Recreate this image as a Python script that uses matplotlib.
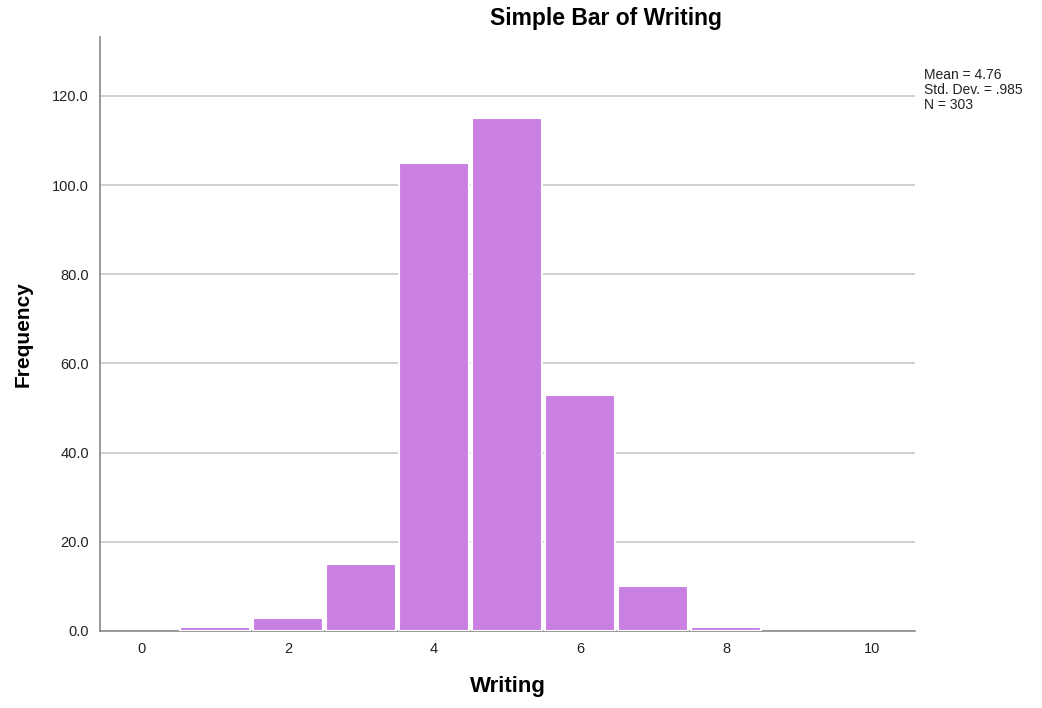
import matplotlib
matplotlib.use("Agg")
import matplotlib.pyplot as plt

plt.rcParams['font.family'] = ['Liberation Sans', 'DejaVu Sans']

writing = [1, 2, 3, 4, 5, 6, 7, 8]
frequency = [1, 3, 15, 105, 115, 53, 10, 1]
yticks = [0, 20, 40, 60, 80, 100, 120]
xticks = [0, 2, 4, 6, 8, 10]
stats = "Mean = 4.76\nStd. Dev. = .985\nN = 303"

fig = plt.figure(figsize=(10.42, 7.08), dpi=100)
ax = fig.add_axes([100/1042, 1 - 631/708, (915-100)/1042, (631-37)/708])

ax.bar(writing, frequency, width=0.97, color='#CA80E3', edgecolor='white', linewidth=1.5, zorder=3)
ax.set_xlim(-0.575, 10.59)
ax.set_ylim(0, 133.2)
ax.set_yticks(yticks)
ax.set_yticklabels([f"{v:.1f}" for v in yticks], fontsize=10.5, color='#222222')
ax.set_xticks(xticks)
ax.set_xticklabels([str(v) for v in xticks], fontsize=10.5, color='#222222')
ax.tick_params(length=0, pad=8)
ax.yaxis.grid(True, color='#c8c8c8', linewidth=1.2, zorder=0)
ax.set_axisbelow(True)
for s in ['top', 'right']:
    ax.spines[s].set_visible(False)
for s in ['left', 'bottom']:
    ax.spines[s].set_color('#888888')
    ax.spines[s].set_linewidth(1.2)

fig.text(606/1042, 1 - 19/708, "Simple Bar of Writing", fontsize=16.5, fontweight='bold',
         ha='center', va='center')
ax.set_xlabel("Writing", fontsize=16, fontweight='bold', labelpad=14)
ax.set_ylabel("Frequency", fontsize=15, fontweight='bold', labelpad=14)

fig.text(924/1042, 1 - 68/708, stats, fontsize=10, va='top', ha='left', linespacing=1.1, color='#222222')

fig.savefig("out.png", dpi=100)
